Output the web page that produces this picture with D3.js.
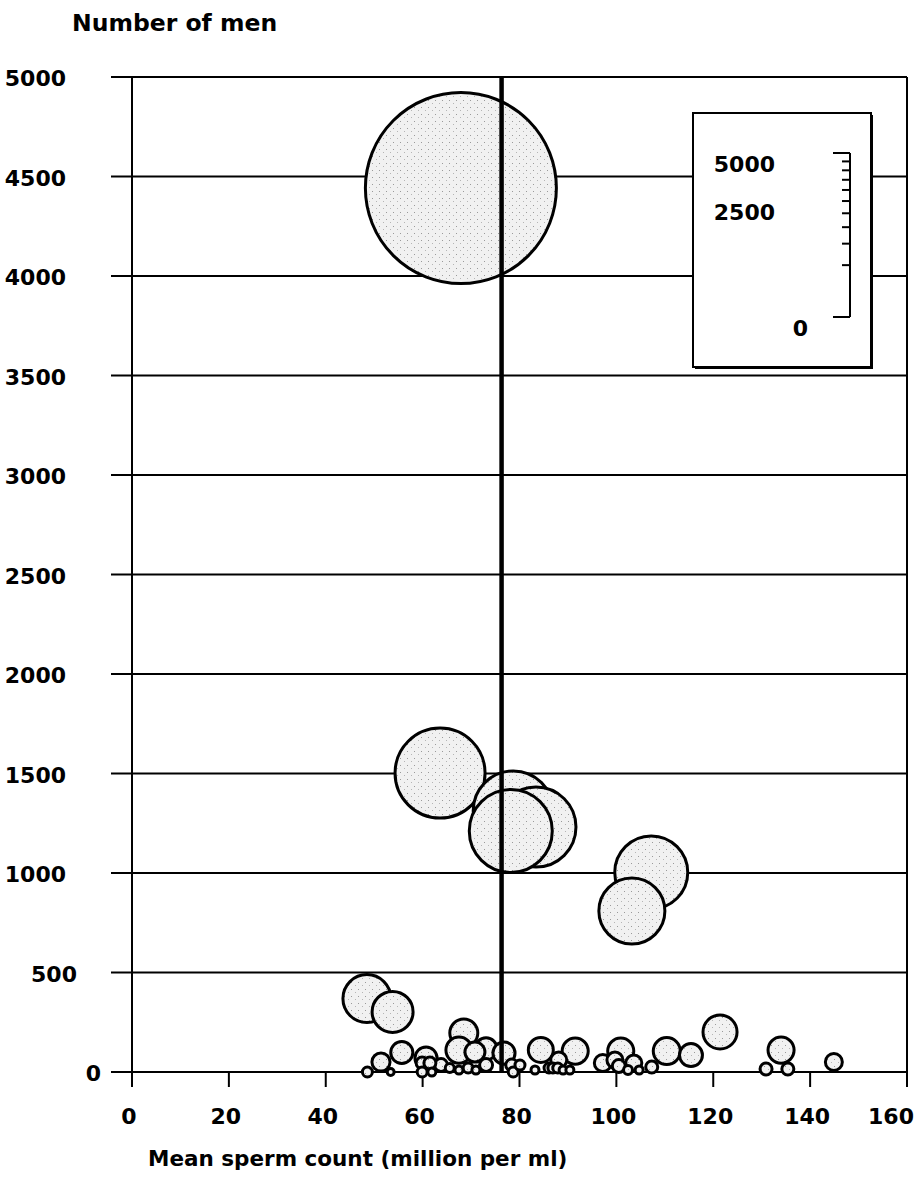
<!DOCTYPE html>
<html>
<head>
<meta charset="utf-8">
<script src="https://cdn.jsdelivr.net/npm/d3@7"></script>
<style>
  body { margin: 0; background: #fff; }
  text { font-family: "DejaVu Sans", sans-serif; font-weight: bold; fill: #000; }
</style>
</head>
<body>
<svg id="chart" width="917" height="1190"></svg>
<script>
// mean sperm count (million per ml) of each study
const meanCount = [67.9, 63.6, 78.7, 83.4, 78.2, 107.2, 103.2, 48.5, 53.8, 121.4,
  68.5, 67.5, 73.1, 76.8, 70.8, 84.4, 91.5, 100.9, 110.4, 115.4,
  134.0, 55.7, 51.4, 60.7, 63.8, 144.9, 97.2, 99.7, 100.5, 103.6,
  88.1, 73.1, 78.4, 130.9, 135.4, 107.3, 48.6, 53.4, 59.9, 61.5,
  59.9, 61.9, 65.6, 67.5, 69.4, 71.0, 78.7, 80.1, 83.2, 86.1,
  86.9, 87.9, 89.0, 90.4, 102.4, 104.7];
// number of men in each study
const numMen = [4442, 1502, 1312, 1231, 1211, 1003, 809, 369, 302, 201,
  196, 110, 116, 95, 100, 111, 105, 105, 105, 85,
  110, 98, 50, 70, 35, 50, 45, 60, 30, 45,
  60, 35, 35, 15, 15, 25, 0, 0, 45, 45,
  0, 0, 20, 10, 20, 10, 0, 35, 10, 20,
  20, 20, 10, 10, 10, 10];
// relative bubble weight
const weight = [4560, 1013, 800, 800, 861, 666, 545, 288, 210, 145,
  98, 85, 61, 61, 50, 78, 85, 85, 91, 66,
  85, 61, 41, 61, 21, 36, 36, 32, 21, 32,
  32, 21, 18, 18, 18, 18, 12.5, 6, 18, 18,
  12.5, 8, 10, 8, 12.5, 8, 12.5, 12.5, 8, 12.5,
  12.5, 12.5, 8, 8, 10, 8];

const xTicks = [0, 20, 40, 60, 80, 100, 120, 140, 160];
const yTicks = [0, 500, 1000, 1500, 2000, 2500, 3000, 3500, 4000, 4500, 5000];
const legendTicks = [0, 500, 1000, 1500, 2000, 2500, 3000, 3500, 4000, 4500, 5000];
const legendLabels = [5000, 2500, 0];
const meanLine = 76.3;

const svg = d3.select("#chart");

// speckled light grey fill like the printed original
const pat = svg.append("defs").append("pattern")
  .attr("id", "speckle")
  .attr("patternUnits", "userSpaceOnUse")
  .attr("width", 7).attr("height", 7);
pat.append("rect").attr("width", 7).attr("height", 7).attr("fill", "#f1f1f1");
pat.append("rect").attr("x", 1).attr("y", 2).attr("width", 1).attr("height", 1).attr("fill", "#9a9a9a");
pat.append("rect").attr("x", 5).attr("y", 5).attr("width", 1).attr("height", 1).attr("fill", "#b5b5b5");

const x = d3.scaleLinear().domain([0, 160]).range([132, 907]);
const y = d3.scaleLinear().domain([0, 5000]).range([1072, 77]);
const r = d3.scaleSqrt().domain([0, 5000]).range([0, 100]);

// gridlines, also acting as y ticks out to the left
svg.append("g")
  .selectAll("line")
  .data(yTicks)
  .join("line")
  .attr("x1", 111)
  .attr("x2", x(160))
  .attr("y1", d => y(d))
  .attr("y2", d => y(d))
  .attr("stroke", "#000")
  .attr("stroke-width", 2);

// y tick labels (the two lowest sit further right, as in the original)
svg.append("g")
  .selectAll("text")
  .data(yTicks)
  .join("text")
  .attr("x", d => d === 0 ? 101 : (d === 500 ? 77 : 66))
  .attr("y", d => y(d) + 9)
  .attr("text-anchor", "end")
  .style("font-size", "22px")
  .text(d => d);

// x axis ticks below the baseline
svg.append("g")
  .selectAll("line")
  .data(xTicks)
  .join("line")
  .attr("x1", d => x(d))
  .attr("x2", d => x(d))
  .attr("y1", y(0))
  .attr("y2", y(0) + 15)
  .attr("stroke", "#000")
  .attr("stroke-width", 2);

svg.append("g")
  .selectAll("text")
  .data(xTicks)
  .join("text")
  .attr("x", d => d === 160 ? 914 : x(d) - 3)
  .attr("y", 1124)
  .attr("text-anchor", d => d === 160 ? "end" : "middle")
  .style("font-size", "22px")
  .text(d => d);

// frame: left axis and right border
svg.append("line")
  .attr("x1", x(0)).attr("x2", x(0))
  .attr("y1", y(5000)).attr("y2", y(0))
  .attr("stroke", "#000").attr("stroke-width", 2);
svg.append("line")
  .attr("x1", x(160)).attr("x2", x(160))
  .attr("y1", y(5000)).attr("y2", y(0))
  .attr("stroke", "#000").attr("stroke-width", 2);

// bubbles
const data = meanCount.map((m, i) => ({ m: m, n: numMen[i], w: weight[i] }));

svg.append("g")
  .selectAll("circle")
  .data(data)
  .join("circle")
  .attr("cx", d => x(d.m))
  .attr("cy", d => y(d.n))
  .attr("r", d => r(d.w))
  .attr("fill", "url(#speckle)")
  .attr("stroke", "#000")
  .attr("stroke-width", 3);

// thick vertical reference line at the overall mean
svg.append("line")
  .attr("x1", x(meanLine)).attr("x2", x(meanLine))
  .attr("y1", y(5000)).attr("y2", y(0))
  .attr("stroke", "#000")
  .attr("stroke-width", 4.5);

// axis titles
svg.append("text")
  .attr("x", 72)
  .attr("y", 31)
  .style("font-size", "23.5px")
  .text("Number of men");

svg.append("text")
  .attr("x", 148)
  .attr("y", 1166)
  .style("font-size", "21.5px")
  .text("Mean sperm count (million per ml)");

// size legend box
const legend = svg.append("g");
legend.append("rect")
  .attr("x", 695).attr("y", 115)
  .attr("width", 178).attr("height", 254)
  .attr("fill", "#000");
legend.append("rect")
  .attr("x", 693).attr("y", 113)
  .attr("width", 178).attr("height", 254)
  .attr("fill", "#fff")
  .attr("stroke", "#000")
  .attr("stroke-width", 2);

const ls = d3.scaleSqrt().domain([0, 5000]).range([317, 153]);

legend.append("line")
  .attr("x1", 850).attr("x2", 850)
  .attr("y1", ls(0)).attr("y2", ls(5000))
  .attr("stroke", "#000").attr("stroke-width", 2);

legend.append("g")
  .selectAll("line")
  .data(legendTicks)
  .join("line")
  .attr("x1", d => (d === 0 || d === 5000) ? 833 : 842)
  .attr("x2", 850)
  .attr("y1", d => ls(d))
  .attr("y2", d => ls(d))
  .attr("stroke", "#000")
  .attr("stroke-width", 2);

legend.append("g")
  .selectAll("text")
  .data(legendLabels)
  .join("text")
  .attr("x", d => d === 0 ? 808 : 775)
  .attr("y", d => ls(d) + 19)
  .attr("text-anchor", "end")
  .style("font-size", "22px")
  .text(d => d);
</script>
</body>
</html>
